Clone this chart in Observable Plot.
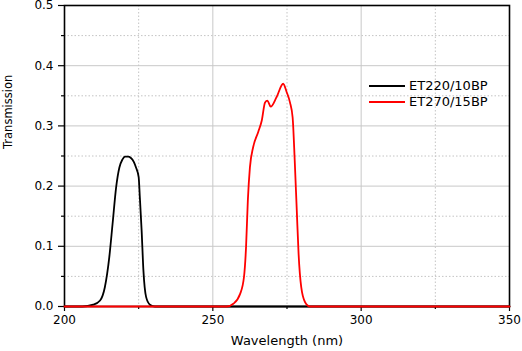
<!DOCTYPE html>
<html>
<head>
<meta charset="utf-8">
<script src="https://cdn.jsdelivr.net/npm/d3@7"></script>
<script src="https://cdn.jsdelivr.net/npm/@observablehq/plot@0.6"></script>
<style>
  html, body { margin: 0; padding: 0; background: #fff; }
  #wrap { position: relative; width: 522px; height: 351px; }
  #legend { position: absolute; left: 369px; top: 78px; font-family: "DejaVu Sans", sans-serif; font-size: 13px; color: #000; line-height: 16px; }
  #legend .row { display: flex; align-items: center; white-space: nowrap; }
  #legend svg { margin-right: 4px; }
</style>
</head>
<body>
<div id="wrap"></div>
<script>
// Series: ET220/10BP (black)
const blackWavelength = [200, 206, 209.7, 212, 213.6, 215.1, 216.2, 217.4, 218.5, 219.5, 220.4, 221.5, 222.3, 223.4, 224.1, 225, 225.4, 226, 226.6, 227.5, 228.8, 230.5, 350];
const blackTransmission = [0, 0, 0.003, 0.01, 0.032, 0.082, 0.137, 0.198, 0.231, 0.244, 0.249, 0.249, 0.247, 0.24, 0.231, 0.215, 0.181, 0.126, 0.06, 0.016, 0.003, 0, 0];
// Series: ET270/15BP (red)
const redWavelength = [200, 254.7, 256.9, 259.2, 260.5, 261.2, 261.8, 262.5, 263.6, 265.3, 266.5, 267.6, 268.4, 269.5, 271.5, 273.7, 274.9, 276, 276.9, 277.6, 278.3, 278.9, 279.8, 281.1, 282.7, 350];
const redTransmission = [0, 0, 0.0045, 0.021, 0.049, 0.099, 0.176, 0.231, 0.265, 0.29, 0.309, 0.339, 0.342, 0.332, 0.348, 0.37, 0.356, 0.339, 0.314, 0.243, 0.159, 0.088, 0.032, 0.007, 0, 0];

const seriesNames = ["ET220/10BP", "ET270/15BP"];
const seriesColors = ["#000000", "#ff0000"];

// Axis ticks
const xMajorTicks = [200, 250, 300, 350];
const xMinorTicks = [225, 275, 325];
const yMajorTicks = [0, 0.1, 0.2, 0.3, 0.4, 0.5];
const yMinorTicks = [0.05, 0.15, 0.25, 0.35, 0.45];
const xGridMajor = [250, 300];
const yGridMajor = [0.1, 0.2, 0.3, 0.4];
const xLabel = "Wavelength (nm)";
const yLabel = "Transmission";

const blackData = blackWavelength.map((w, i) => ({w, t: blackTransmission[i]}));
const redData = redWavelength.map((w, i) => ({w, t: redTransmission[i]}));

const chart = Plot.plot({
  width: 522,
  height: 351,
  marginLeft: 64,
  marginRight: 13,
  marginTop: 5,
  marginBottom: 45,
  style: {fontFamily: "DejaVu Sans, sans-serif", fontSize: "12px", color: "#000", background: "#fff", overflow: "visible"},
  x: {domain: [200, 350]},
  y: {domain: [0, 0.5]},
  marks: [
    Plot.gridX(xMinorTicks, {stroke: "#c4c4c4", strokeOpacity: 1, strokeDasharray: "1.5,2"}),
    Plot.gridY(yMinorTicks, {stroke: "#c4c4c4", strokeOpacity: 1, strokeDasharray: "1.5,2"}),
    Plot.gridX(xGridMajor, {stroke: "#c8c8c8", strokeOpacity: 1}),
    Plot.gridY(yGridMajor, {stroke: "#c8c8c8", strokeOpacity: 1}),
    Plot.axisX(xMajorTicks, {tickSize: 5, tickPadding: 4, tickFormat: d => String(d), label: null, strokeWidth: 1.2}),
    Plot.axisX(xMinorTicks, {tickSize: 3, fill: "none", label: null, strokeWidth: 1.2}),
    Plot.axisY(yMajorTicks, {tickSize: 6, tickPadding: 5, tickFormat: d3.format(".1f"), label: null, strokeWidth: 1.2}),
    Plot.axisY(yMinorTicks, {tickSize: 3, fill: "none", label: null, strokeWidth: 1.2}),
    Plot.frame({stroke: "#000", strokeWidth: 1.6}),
    Plot.line(blackData, {x: "w", y: "t", stroke: seriesColors[0], strokeWidth: 1.8, curve: "monotone-x"}),
    Plot.line(redData, {x: "w", y: "t", stroke: seriesColors[1], strokeWidth: 1.8, curve: "monotone-x"}),
    Plot.text([xLabel], {frameAnchor: "bottom", dy: 38, text: d => d, fontSize: 13}),
    Plot.text([yLabel], {frameAnchor: "left", rotate: -90, dx: -56, dy: -7, text: d => d, fontSize: 11.5})
  ]
});

const wrap = document.getElementById("wrap");
wrap.appendChild(chart);

const legend = document.createElement("div");
legend.id = "legend";
seriesNames.forEach((name, i) => {
  const row = document.createElement("div");
  row.className = "row";
  row.innerHTML = `<svg width="36" height="4"><line x1="0" y1="2" x2="36" y2="2" stroke="${seriesColors[i]}" stroke-width="2"/></svg><span>${name}</span>`;
  legend.appendChild(row);
});
wrap.appendChild(legend);
</script>
</body>
</html>
